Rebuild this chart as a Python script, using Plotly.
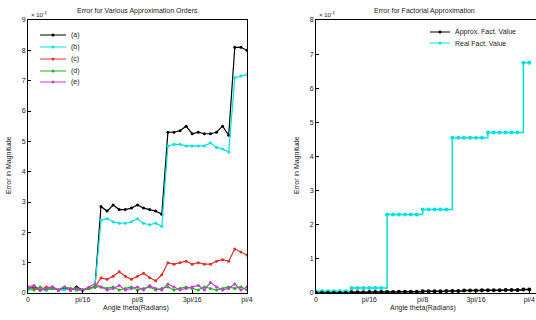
import plotly.graph_objects as go

# angle samples (radians), k*pi/144
theta = [0.0, 0.0218, 0.0436, 0.0654, 0.0873, 0.1091, 0.1309, 0.1527, 0.1745, 0.1963,
         0.2182, 0.2400, 0.2618, 0.2836, 0.3054, 0.3272, 0.3491, 0.3709, 0.3927, 0.4145,
         0.4363, 0.4581, 0.4800, 0.5018, 0.5236, 0.5454, 0.5672, 0.5890, 0.6109, 0.6327,
         0.6545, 0.6763, 0.6981, 0.7199, 0.7418, 0.7636, 0.7854]

err_a = [0.15, 0.2, 0.1, 0.15, 0.2, 0.1, 0.15, 0.1, 0.2, 0.1, 0.15, 0.2,
         2.85, 2.7, 2.9, 2.75, 2.75, 2.8, 2.9, 2.8, 2.75, 2.7, 2.6,
         5.3, 5.3, 5.35, 5.5, 5.25, 5.3, 5.25, 5.25, 5.3, 5.5, 5.2,
         8.1, 8.1, 8.0]
err_b = [0.1, 0.15, 0.1, 0.1, 0.15, 0.1, 0.1, 0.15, 0.1, 0.1, 0.15, 0.2,
         2.4, 2.45, 2.35, 2.3, 2.3, 2.35, 2.45, 2.3, 2.25, 2.3, 2.2,
         4.85, 4.9, 4.9, 4.85, 4.85, 4.85, 4.85, 4.95, 4.8, 4.75, 4.65,
         7.1, 7.15, 7.2]
err_c = [0.2, 0.15, 0.1, 0.2, 0.15, 0.1, 0.2, 0.1, 0.15, 0.1, 0.15, 0.2,
         0.5, 0.45, 0.55, 0.7, 0.55, 0.45, 0.55, 0.65, 0.5, 0.4, 0.6,
         1.0, 0.95, 1.0, 1.05, 0.95, 1.0, 0.95, 0.95, 1.05, 1.1, 1.05,
         1.45, 1.35, 1.25]
err_d = [0.15, 0.1, 0.2, 0.1, 0.15, 0.1, 0.2, 0.15, 0.1, 0.1, 0.15, 0.2,
         0.2, 0.15, 0.2, 0.1, 0.15, 0.2, 0.1, 0.15, 0.2, 0.1, 0.15,
         0.2, 0.1, 0.15, 0.2, 0.15, 0.1, 0.2, 0.15, 0.1, 0.15, 0.2,
         0.15, 0.2, 0.1]
err_e = [0.2, 0.25, 0.1, 0.15, 0.2, 0.1, 0.2, 0.1, 0.15, 0.1, 0.2, 0.3,
         0.2, 0.1, 0.15, 0.25, 0.1, 0.15, 0.2, 0.1, 0.25, 0.15, 0.1,
         0.3, 0.2, 0.1, 0.15, 0.2, 0.25, 0.1, 0.35, 0.2, 0.1, 0.15,
         0.3, 0.1, 0.2]
labels_left = ["(a)", "(b)", "(c)", "(d)", "(e)"]
colors_left = ["black", "#00e0e0", "#e03030", "#20b020", "#c040d0"]

fact_approx = [0.0, 0.0, 0.0, 0.0, 0.0, 0.0, 0.02, 0.02, 0.02, 0.03, 0.03, 0.03,
               0.03, 0.03, 0.04, 0.04, 0.04, 0.04, 0.05, 0.05, 0.05, 0.05, 0.06,
               0.06, 0.06, 0.07, 0.07, 0.07, 0.08, 0.08, 0.08, 0.08, 0.09, 0.09,
               0.09, 0.1, 0.1]
fact_real = [0.05, 0.05, 0.05, 0.05, 0.05, 0.05, 0.15, 0.15, 0.15, 0.15, 0.15, 0.15,
             2.3, 2.3, 2.3, 2.3, 2.3, 2.3, 2.45, 2.45, 2.45, 2.45, 2.45,
             4.55, 4.55, 4.55, 4.55, 4.55, 4.55, 4.7, 4.7, 4.7, 4.7, 4.7, 4.7,
             6.75, 6.75]

xtick_vals = [0, 0.19635, 0.3927, 0.58905, 0.7854]
xtick_text = ["0", "pi/16", "pi/8", "3pi/16", "pi/4"]

FONT = "Liberation Sans"
fig = go.Figure()

series = [err_a, err_b, err_c, err_d, err_e]
for vals, name, col in zip(series, labels_left, colors_left):
    fig.add_trace(go.Scatter(x=theta, y=vals, name=name, mode="lines+markers",
                             line=dict(color=col, width=1.2),
                             marker=dict(color=col, size=3),
                             xaxis="x", yaxis="y", showlegend=False))

fig.add_trace(go.Scatter(x=theta, y=fact_real, name="Real Fact. Value", mode="lines+markers",
                         line=dict(color="#00e0e0", width=1.5, shape="hv"),
                         marker=dict(color="#00e0e0", size=4),
                         xaxis="x2", yaxis="y2", showlegend=False))
fig.add_trace(go.Scatter(x=theta, y=fact_approx, name="Approx. Fact. Value", mode="lines+markers",
                         line=dict(color="black", width=1.5, shape="hv"),
                         marker=dict(color="black", size=4),
                         xaxis="x2", yaxis="y2", showlegend=False))

ax_common = dict(showgrid=False, zeroline=False, showline=True, mirror=True, automargin=False,
                 linecolor="black", linewidth=1, ticks="inside", ticklen=3,
                 tickcolor="black", tickfont=dict(family=FONT, size=7, color="#222"))

fig.update_layout(
    width=536, height=320,
    margin=dict(l=28, r=0, t=20, b=27),
    paper_bgcolor="white", plot_bgcolor="white",
    xaxis=dict(domain=[0, 0.431], range=[0, 0.7854], tickvals=xtick_vals, ticktext=xtick_text, **ax_common),
    yaxis=dict(domain=[0, 1], range=[0, 9], tickvals=list(range(10)), **ax_common),
    xaxis2=dict(domain=[0.567, 1], range=[0, 0.81], tickvals=xtick_vals, ticktext=xtick_text,
                anchor="y2", **ax_common),
    yaxis2=dict(domain=[0, 1], range=[0, 8], tickvals=list(range(9)), anchor="x2", **ax_common),
)

def ann(x, y, text, size=7, xanchor="center", **kw):
    fig.add_annotation(x=x, y=y, xref="paper", yref="paper", text=text, showarrow=False,
                       xanchor=xanchor, yanchor="middle",
                       font=dict(family=FONT, size=size, color="#222"), **kw)

# pixel helpers (plot-area paper coordinates)
def px(xp):
    return (xp - 28) / 508.0
def py(yp):
    return (293 - yp) / 273.0

ann(px(137), py(11), "Error for Various Approximation Orders")
ann(px(424), py(11), "Error for Factorial Approximation")
ann(px(136), py(308), "Angle theta(Radians)")
ann(px(423), py(308), "Angle theta(Radians)")
ann(px(9), py(165), "Error in Magnitude", textangle=-90)
ann(px(297), py(165), "Error in Magnitude", textangle=-90)
ann(px(29), py(14), "× 10<sup>-3</sup>", size=6, xanchor="left")
ann(px(317), py(14), "× 10<sup>-3</sup>", size=6, xanchor="left")

# legends drawn as lines + markers + text
leg_y = [35, 47, 59, 71, 82]
for yy, name, col in zip(leg_y, labels_left, colors_left):
    fig.add_shape(type="line", xref="paper", yref="paper", x0=px(40), x1=px(66), y0=py(yy), y1=py(yy),
                  line=dict(color=col, width=1))
    fig.add_shape(type="circle", xref="paper", yref="paper", x0=px(51.5), x1=px(54.5),
                  y0=py(yy + 1.5), y1=py(yy - 1.5), fillcolor=col, line=dict(color=col, width=0))
    ann(px(69), py(yy), name, xanchor="left")

leg2 = [(32, "Approx. Fact. Value", "black"), (43, "Real Fact. Value", "#00e0e0")]
for yy, name, col in leg2:
    fig.add_shape(type="line", xref="paper", yref="paper", x0=px(430), x1=px(450), y0=py(yy), y1=py(yy),
                  line=dict(color=col, width=1))
    fig.add_shape(type="circle", xref="paper", yref="paper", x0=px(438.5), x1=px(441.5),
                  y0=py(yy + 1.5), y1=py(yy - 1.5), fillcolor=col, line=dict(color=col, width=0))
    ann(px(453), py(yy), name, xanchor="left")

fig.write_html("out.html", config={"displayModeBar": False},
               post_script="document.body.style.margin='0';")
